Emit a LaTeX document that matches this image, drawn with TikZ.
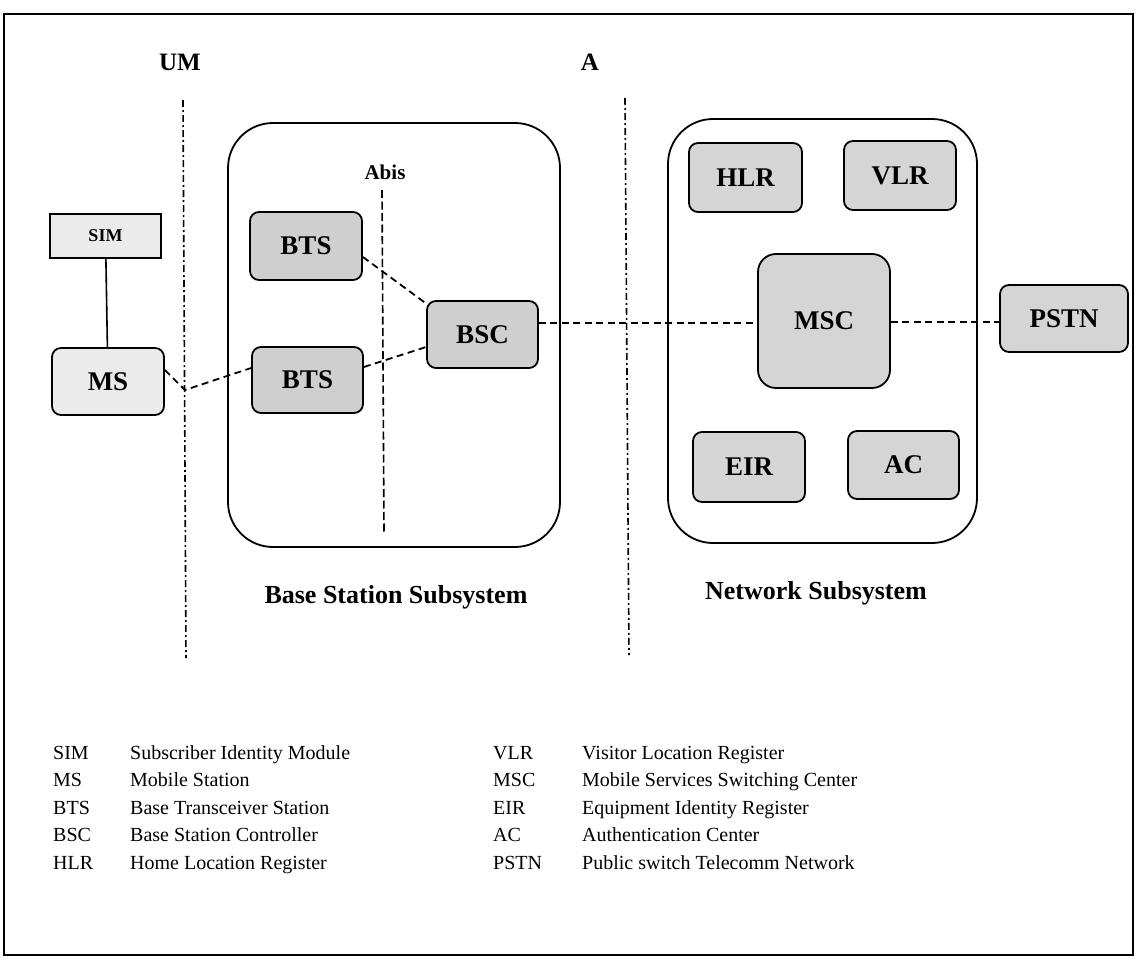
\documentclass[tikz,border=0pt]{standalone}
\usepackage{fontspec}
\setmainfont{Liberation Serif}
\usetikzlibrary{calc}
\definecolor{lightfill}{HTML}{EBEBEB}
\definecolor{btsfill}{HTML}{CFCFCF}
\definecolor{nssfill}{HTML}{D5D5D5}
\begin{document}
\begin{tikzpicture}[x=1pt,y=-1pt,
  comp/.style={draw, line width=1.8pt, rounded corners=9pt, fill=#1,
    font=\bfseries\fontsize{27}{29}\selectfont, inner sep=0pt},
  sys/.style={draw, line width=1.8pt, rounded corners=45pt},
  link/.style={line width=1.8pt, dash pattern=on 7pt off 4.5pt},
  iface/.style={line width=1.6pt, dash pattern=on 7pt off 3pt on 2pt off 3pt},
  abisline/.style={line width=1.6pt, dash pattern=on 8pt off 3.5pt},
  hdr/.style={font=\bfseries\fontsize{25}{27}\selectfont},
  sysname/.style={font=\bfseries\fontsize{26}{28}\selectfont},
  leg/.style={anchor=base west, font=\fontsize{20}{22}\selectfont, inner sep=0pt}
]
\useasboundingbox (0,0) rectangle (1148,969);
% outer frame
\draw[line width=1.5pt] (4,14) rectangle (1133,955);

% interface lines
\node[hdr] (um) at (180,62) {UM};
\coordinate (umtop) at (183,100);
\coordinate (umbot) at (186,658);
\draw[iface] (umtop) -- (umbot);
\node[hdr] (a) at (590,62) {A};
\coordinate (atop) at (625,98);
\coordinate (abot) at (629,655);
\draw[iface] (atop) -- (abot);

% subsystems
\draw[sys] (228,123) rectangle (560,547);
\draw[sys] (668,119) rectangle (977,543);
\node[sysname] (bsslab) at (396,597) {Base Station Subsystem};
\node[sysname] (nsslab) at (816,593) {Network Subsystem};

% Abis
\node[font=\bfseries\fontsize{21}{23}\selectfont] (abis) at (385,172) {Abis};
\coordinate (abistop) at (382,190);
\coordinate (abisbot) at (384,532);
\draw[abisline] (abistop) -- (abisbot);

% components
\node[draw, line width=1.8pt, fill=lightfill, minimum width=111pt, minimum height=44pt,
  inner sep=0pt, font=\bfseries\fontsize{18}{20}\selectfont] (sim) at (105.5,236) {SIM};
\node[comp=lightfill, minimum width=112pt, minimum height=67pt] (ms) at (108,381.5) {MS};
\node[comp=btsfill, minimum width=112pt, minimum height=68pt] (bts1) at (306,246) {BTS};
\node[comp=btsfill, minimum width=111pt, minimum height=66pt] (bts2) at (307.5,380) {BTS};
\node[comp=btsfill, minimum width=111pt, minimum height=67pt] (bsc) at (482.5,334.5) {BSC};
\node[comp=nssfill, minimum width=132pt, minimum height=134pt, rounded corners=18pt] (msc) at (824,321) {MSC};
\node[comp=nssfill, minimum width=113pt, minimum height=69pt] (hlr) at (745.5,177.5) {HLR};
\node[comp=nssfill, minimum width=112pt, minimum height=69pt] (vlr) at (900,175.5) {VLR};
\node[comp=nssfill, minimum width=112pt, minimum height=70pt] (eir) at (749,467) {EIR};
\node[comp=nssfill, minimum width=111pt, minimum height=68pt] (ac) at (903.5,465) {AC};
\node[comp=nssfill, minimum width=128pt, minimum height=67pt] (pstn) at (1064,318.5) {PSTN};

% connectors (yshift is in page direction: positive = up)
\draw[line width=1.6pt] (sim) -- (ms);
\coordinate (kink) at (185,390);
\draw[link] ([yshift=11.5pt]ms.east) -- (kink) -- ([yshift=12pt]bts2.west);
\draw[link] ([yshift=-11pt]bts1.east) -- ([yshift=31pt]bsc.west);
\draw[link] ([yshift=13pt]bts2.east) -- ([yshift=-12.5pt]bsc.west);
\draw[link] ([yshift=11.5pt]bsc.east) -- ([yshift=-2pt]msc.west);
\draw[link] ([yshift=-1pt]msc.east) -- ([yshift=-3.5pt]pstn.west);

% legend
\foreach \ab/\tx [count=\i] in {SIM/Subscriber Identity Module, MS/Mobile Station,
  BTS/Base Transceiver Station, BSC/Base Station Controller, HLR/Home Location Register}{
  \node[leg] (la\i) at (53,{759+27.5*(\i-1)}) {\ab};
  \node[leg] (lb\i) at (130,{759+27.5*(\i-1)}) {\tx};
}
\foreach \ab/\tx [count=\i] in {VLR/Visitor Location Register, MSC/Mobile Services Switching Center,
  EIR/Equipment Identity Register, AC/Authentication Center, PSTN/Public switch Telecomm Network}{
  \node[leg] (lc\i) at (493,{759+27.5*(\i-1)}) {\ab};
  \node[leg] (ld\i) at (582,{759+27.5*(\i-1)}) {\tx};
}
\end{tikzpicture}
\end{document}
